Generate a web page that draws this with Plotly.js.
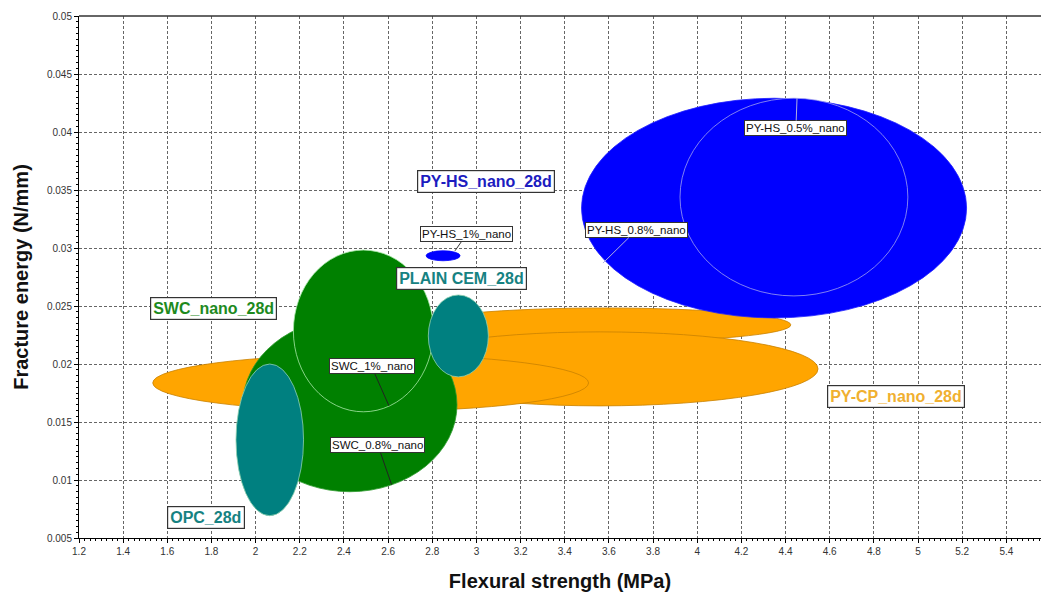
<!DOCTYPE html>
<html>
<head>
<meta charset="utf-8">
<script src="https://cdn.plot.ly/plotly-3.0.1.min.js"></script>
<style>html,body{margin:0;padding:0;background:#fff;}#chart{width:1041px;height:597px;}</style>
</head>
<body>
<div id="chart"></div>
<script>
// Ellipse data: centre (mean) and half-extent (spread) of flexural strength (MPa) and fracture energy (N/mm)
const mixNames   = ["PY-CP_c", "PY-CP_b", "PY-CP_a", "PY-HS_0.8%_nano", "PY-HS_0.5%_nano", "PY-HS_1%_nano", "SWC_0.8%_nano", "SWC_1%_nano", "OPC_28d", "PLAIN CEM_28d"];
const strengthMean   = [3.582, 3.560, 2.521, 4.348, 4.438, 2.849, 2.427, 2.488, 2.064, 2.918];
const strengthSpread = [0.842, 0.987, 0.987, 0.872, 0.516, 0.077, 0.485, 0.317, 0.153, 0.136];
const energyMean     = [0.02337, 0.01958, 0.01837, 0.03344, 0.03439, 0.02933, 0.01648, 0.02285, 0.01346, 0.02242];
const energySpread   = [0.00146, 0.00319, 0.00245, 0.00947, 0.00852, 0.00043, 0.00749, 0.00697, 0.00654, 0.00353];

const fillColors = ["#ffa500", "#ffa500", "#ffa500", "#0000ff", "#0000ff", "#0000ff", "#008000", "#008000", "#008080", "#008080"];
const lineColors = ["#c98200", "#c98200", "#c98200", "#2020ff", "#a0a0f0", "#0000ff", "#2f9a2f", "#a8e8a8", "#8fd0b0", "#8fd0b0"];

// Group labels
const groupLabels = ["PY-HS_nano_28d", "SWC_nano_28d", "PLAIN CEM_28d", "OPC_28d", "PY-CP_nano_28d"];
const groupLabelX = [3.043, 1.810, 2.933, 1.775, 4.898];
const groupLabelY = [0.03577, 0.02479, 0.02733, 0.00679, 0.01717];
const groupColors = ["#1c1cc0", "#1e8a1e", "#168282", "#168282", "#f0b030"];

// Point labels with leader lines
const pointLabels = ["PY-HS_1%_nano", "PY-HS_0.8%_nano", "PY-HS_0.5%_nano", "SWC_1%_nano", "SWC_0.8%_nano"];
const pointLabelX = [2.956, 3.725, 4.447, 2.525, 2.554];
const pointLabelY = [0.03120, 0.03155, 0.04033, 0.01979, 0.01299];
const pointTargetX = [2.903, 3.573, 4.452, 2.604, 2.616];
const pointTargetY = [0.02976, 0.02870, 0.04291, 0.01639, 0.00959];
const pointLineColors = ["#333333", "#b0b0e0", "#b0b0e0", "#222222", "#222222"];

const shapes = mixNames.map((n, i) => ({
  type: "circle", xref: "x", yref: "y",
  x0: strengthMean[i] - strengthSpread[i], x1: strengthMean[i] + strengthSpread[i],
  y0: energyMean[i] - energySpread[i], y1: energyMean[i] + energySpread[i],
  fillcolor: fillColors[i], line: {color: lineColors[i], width: 0.8}, layer: "above"
}));

const annotations = [];
groupLabels.forEach((t, i) => annotations.push({
  x: groupLabelX[i], y: groupLabelY[i], xref: "x", yref: "y", text: t, showarrow: false,
  font: {family: "Liberation Sans, Arial, sans-serif", size: 16, color: groupColors[i], weight: "bold"},
  bgcolor: "#ffffff", bordercolor: "#333333", borderwidth: 1.2, borderpad: 2
}));
pointLabels.forEach((t, i) => annotations.push({
  x: pointTargetX[i], y: pointTargetY[i], xref: "x", yref: "y",
  ax: pointLabelX[i], ay: pointLabelY[i], axref: "x", ayref: "y",
  text: t, showarrow: true, arrowhead: 0, arrowwidth: 1, arrowcolor: pointLineColors[i],
  font: {family: "Liberation Sans, Arial, sans-serif", size: 11.5, color: "#111111"},
  bgcolor: "#ffffff", bordercolor: "#333333", borderwidth: 1, borderpad: 1
}));

const trace = {
  type: "scatter", mode: "markers", x: strengthMean, y: energyMean, text: mixNames,
  marker: {opacity: 0}, hoverinfo: "text+x+y", showlegend: false
};

const axisFont = {family: "Liberation Sans, Arial, sans-serif", size: 10, color: "#333333"};
const layout = {
  width: 1041, height: 597,
  margin: {l: 79, r: 0, t: 16, b: 59},
  paper_bgcolor: "#ffffff", plot_bgcolor: "#ffffff",
  showlegend: false,
  xaxis: {
    range: [1.2, 5.557], tick0: 1.2, dtick: 0.2,
    showgrid: true, gridcolor: "#666666", gridwidth: 1, griddash: "3px,2px",
    showline: true, linecolor: "#000000", linewidth: 1, mirror: false,
    ticks: "outside", ticklen: 4, tickcolor: "#000000",
    minor: {dtick: 0.025, ticks: "outside", ticklen: 2, tickcolor: "#000000", showgrid: false},
    tickfont: axisFont, zeroline: false, automargin: false,
    title: {text: "Flexural strength (MPa)", standoff: 17,
      font: {family: "Liberation Sans, Arial, sans-serif", size: 20, color: "#111111", weight: "bold"}}
  },
  yaxis: {
    range: [0.005, 0.05], tick0: 0.005, dtick: 0.005,
    showgrid: true, gridcolor: "#666666", gridwidth: 1, griddash: "3px,2px",
    showline: true, linecolor: "#000000", linewidth: 1,
    ticks: "outside", ticklen: 4, tickcolor: "#000000",
    minor: {dtick: 0.0005, ticks: "outside", ticklen: 2, tickcolor: "#000000", showgrid: false},
    tickfont: axisFont, zeroline: false, automargin: false,
    title: {text: "Fracture energy (N/mm)", standoff: 12,
      font: {family: "Liberation Sans, Arial, sans-serif", size: 20, color: "#111111", weight: "bold"}}
  },
  shapes: shapes.concat([{type: "line", xref: "paper", yref: "paper", x0: 0, x1: 1, y0: 1, y1: 1,
    line: {color: "#333333", width: 1.5}}]),
  annotations: annotations
};

Plotly.newPlot("chart", [trace], layout, {displayModeBar: false, staticPlot: true});
</script>
</body>
</html>
